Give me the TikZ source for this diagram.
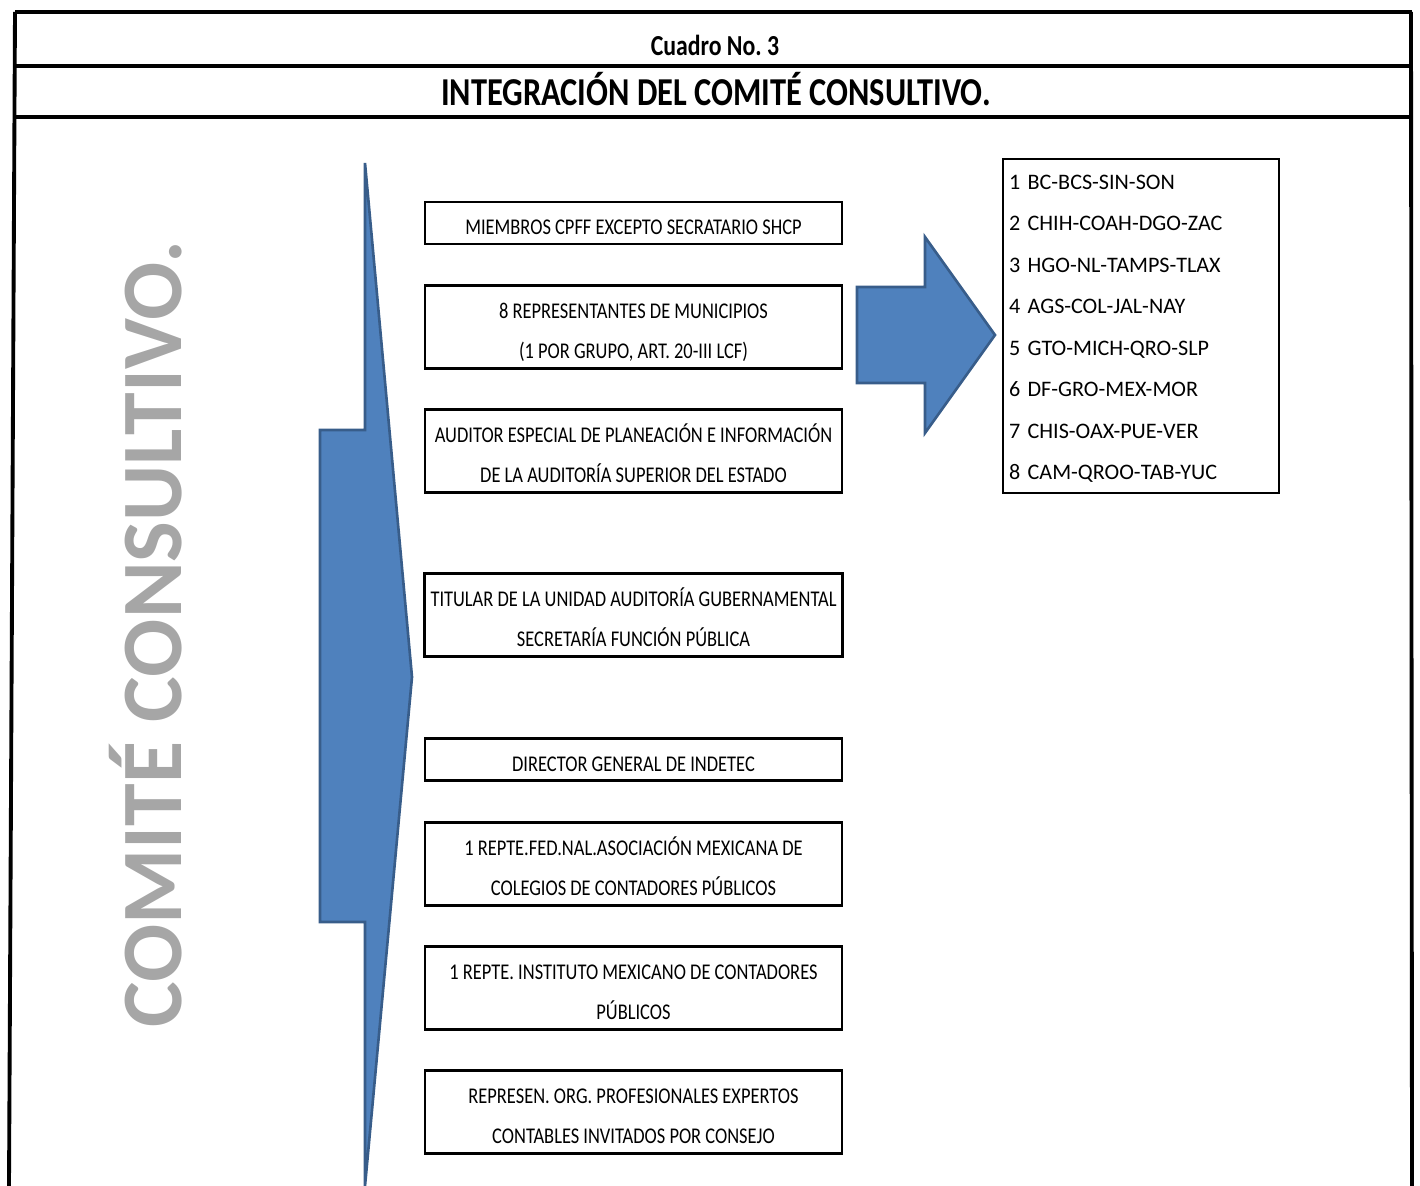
\documentclass[tikz,border=0pt]{standalone}
\usepackage{fontspec}
\setmainfont{Carlito}
\newfontfamily\angosta[FakeStretch=0.82]{Carlito}
\frenchspacing
\usepackage{tikz}
\usetikzlibrary{shapes.geometric, arrows}
\definecolor{azul}{HTML}{4F81BD}
\definecolor{azulborde}{HTML}{385D8A}

\begin{document}
\begin{tikzpicture}[x=0.02cm, y=-0.02cm, node distance=2.08cm]
\tikzstyle{cargo} = [rectangle, minimum width=8.34cm, minimum height=0.84cm, align=center, text height=13.5pt, text depth=0pt, draw=black, line width=1.6pt, font=\angosta\fontsize{12.8}{22.7}\selectfont]
\tikzstyle{cargodos} = [cargo, minimum height=1.66cm, text height=36pt]
\tikzstyle{grupos} = [rectangle, minimum height=6.68cm, text width=5.28cm, text height=11.5pt, inner xsep=0.12cm, align=left, draw=black, line width=1.6pt, font=\fontsize{12.6}{23.6}\selectfont]
\tikzstyle{marco} = [line width=2.2pt]
\tikzstyle{flecha} = [fill=azul, draw=azulborde, line width=1.5pt, line join=miter]

\useasboundingbox (0,0) rectangle (1420,1186);

% marco y encabezado
\draw [marco] (15,12) -- (1412,12);
\draw [marco] (15,12) -- (9,1186);
\draw [marco] (1411,12) -- (1412,1186);
\draw [marco] (14,66) -- (1411,66);
\draw [marco] (13,117) -- (1411,117);
\node (cuadro) at (715,45) {\angosta\fontsize{16.5}{18}\selectfont\bfseries Cuadro No. 3};
\node (titulo) at (716,89.5) {\angosta\fontsize{22.5}{24}\selectfont\bfseries INTEGRACIÓN DEL COMITÉ CONSULTIVO.};

% texto vertical
\node (comite) [rotate=90, text=gray!70, font=\fontsize{49}{51}\selectfont\bfseries] at (146,634) {COMITÉ CONSULTIVO.};

% flechas
\draw [flecha] (365,163) -- (412,677) -- (365,1186) -- (365,922) -- (320,922) -- (320,430) -- (365,430) -- cycle;
\draw [flecha] (857,287) -- (925,287) -- (925,237) -- (995,335) -- (925,433) -- (925,383) -- (857,383) -- cycle;

\node (m1) [cargo] at (633.5,223) {MIEMBROS CPFF EXCEPTO SECRATARIO SHCP};
\node (m2) [cargodos, below of=m1] {8 REPRESENTANTES DE MUNICIPIOS\\(1 POR  GRUPO, ART. 20-III LCF)};
\node (m3) [cargodos, below of=m2, yshift=-0.4cm] {AUDITOR ESPECIAL DE PLANEACIÓN E INFORMACIÓN\\DE LA AUDITORÍA SUPERIOR DEL ESTADO};
\node (m4) [cargodos, below of=m3, yshift=-1.2cm] {TITULAR DE LA UNIDAD AUDITORÍA GUBERNAMENTAL\\SECRETARÍA FUNCIÓN PÚBLICA};
\node (m5) [cargo, below of=m4, yshift=-0.82cm] {DIRECTOR GENERAL DE INDETEC};
\node (m6) [cargodos, below of=m5] {1 REPTE.FED.NAL.ASOCIACIÓN MEXICANA DE\\COLEGIOS DE CONTADORES PÚBLICOS};
\node (m7) [cargodos, below of=m6, yshift=-0.4cm] {1 REPTE. INSTITUTO MEXICANO DE CONTADORES\\PÚBLICOS};
\node (m8) [cargodos, below of=m7, yshift=-0.4cm] {REPRESEN. ORG. PROFESIONALES EXPERTOS\\CONTABLES INVITADOS POR CONSEJO};

\node (grupos) [grupos] at (1141,326) {1 BC-BCS-SIN-SON\\2 CHIH-COAH-DGO-ZAC\\3 HGO-NL-TAMPS-TLAX\\4 AGS-COL-JAL-NAY\\5 GTO-MICH-QRO-SLP\\6 DF-GRO-MEX-MOR\\7 CHIS-OAX-PUE-VER\\8 CAM-QROO-TAB-YUC};
\end{tikzpicture}
\end{document}
